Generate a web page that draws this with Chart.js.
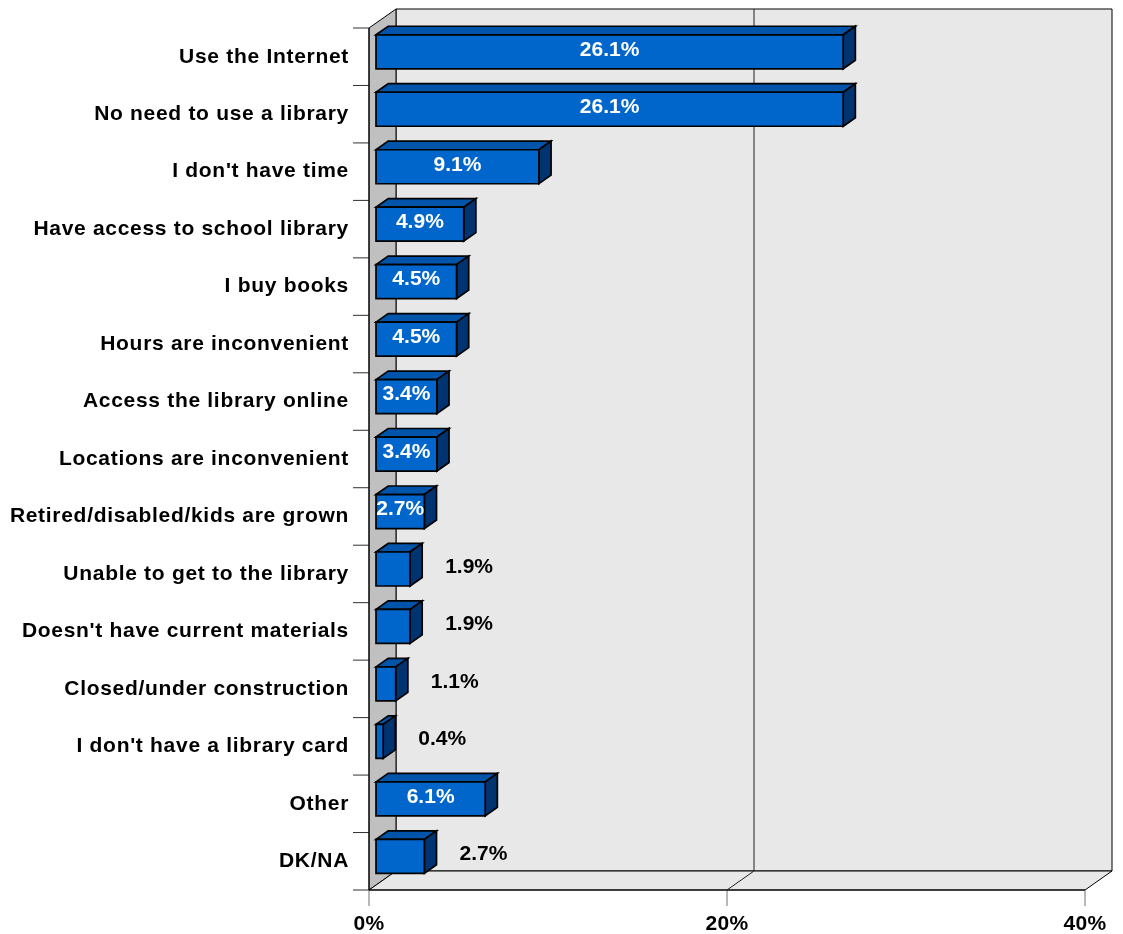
<!DOCTYPE html>
<html>
<head>
<meta charset="utf-8">
<title>Reasons for not using the library</title>
<script src="https://cdn.jsdelivr.net/npm/chart.js@4.4.1/dist/chart.umd.min.js"></script>
<style>
  html, body { margin: 0; padding: 0; background: #ffffff; }
  #wrap { width: 1123px; height: 934px; }
</style>
</head>
<body>
<div id="wrap"><canvas id="chart" width="1123" height="934"></canvas></div>
<script>
// ---- data ----
const categories = [
  'Use the Internet',
  'No need to use a library',
  "I don't have time",
  'Have access to school library',
  'I buy books',
  'Hours are inconvenient',
  'Access the library online',
  'Locations are inconvenient',
  'Retired/disabled/kids are grown',
  'Unable to get to the library',
  "Doesn't have current materials",
  'Closed/under construction',
  "I don't have a library card",
  'Other',
  'DK/NA'
];
const values = [26.1, 26.1, 9.1, 4.9, 4.5, 4.5, 3.4, 3.4, 2.7, 1.9, 1.9, 1.1, 0.4, 6.1, 2.7];
const axisMin = 0;
const axisMax = 40;
const axisStep = 20;
const axisTickLabels = ['0%', '20%', '40%'];

// rows whose value label sits beside the bar rather than on it
const outsideLabelRows = [9, 10, 11, 12, 14];

// ---- 3D look ----
const DEPTH = { x: 27, y: -19 };       // full depth of the wall box
const BAR_FRONT = 0.26;                // bar front face, as a share of the depth
const BAR_DEPTH = 0.45;                // bar thickness in depth
const FONT = 'bold 21px "Liberation Sans", Arial, sans-serif';

function poly(ctx, pts, fill, stroke, lw) {
  ctx.beginPath();
  ctx.moveTo(pts[0][0], pts[0][1]);
  for (let i = 1; i < pts.length; i++) ctx.lineTo(pts[i][0], pts[i][1]);
  ctx.closePath();
  if (fill) { ctx.fillStyle = fill; ctx.fill(); }
  if (stroke) { ctx.strokeStyle = stroke; ctx.lineWidth = lw || 1; ctx.stroke(); }
}

function line(ctx, pts, color, lw) {
  ctx.beginPath();
  ctx.moveTo(pts[0][0], pts[0][1]);
  for (let i = 1; i < pts.length; i++) ctx.lineTo(pts[i][0], pts[i][1]);
  ctx.strokeStyle = color;
  ctx.lineWidth = lw || 1;
  ctx.stroke();
}

function text(ctx, str, x, y, align, color, spacing) {
  ctx.save();
  ctx.font = FONT;
  ctx.fillStyle = color;
  ctx.textAlign = align;
  ctx.textBaseline = 'middle';
  if ('letterSpacing' in ctx) ctx.letterSpacing = spacing + 'px';
  ctx.fillText(str, x, y);
  ctx.restore();
}

const box3d = {
  id: 'box3d',
  beforeDatasetsDraw(chart) {
    const ctx = chart.ctx;
    const { left, right, top, bottom } = chart.chartArea;
    const xs = chart.scales.x, ys = chart.scales.y;
    const dx = DEPTH.x, dy = DEPTH.y;
    ctx.save();
    ctx.lineJoin = 'miter';

    // back wall, side wall and floor
    poly(ctx, [[left + dx, top + dy], [right + dx, top + dy], [right + dx, bottom + dy], [left + dx, bottom + dy]], '#e8e8e8', '#000', 1);
    poly(ctx, [[left, top], [left + dx, top + dy], [left + dx, bottom + dy], [left, bottom]], '#c0c0c0', '#000', 1);
    poly(ctx, [[left, bottom], [right, bottom], [right + dx, bottom + dy], [left + dx, bottom + dy]], '#e8e8e8', '#000', 1);

    // value gridlines across floor and back wall, ticks and tick labels
    let k = 0;
    for (let v = axisMin; v <= axisMax; v += axisStep, k++) {
      const px = xs.getPixelForValue(v);
      if (v > axisMin && v < axisMax) {
        line(ctx, [[px, bottom], [px + dx, bottom + dy], [px + dx, top + dy]], '#202020', 1);
      }
      line(ctx, [[px, bottom], [px, bottom + 16]], '#707070', 1);
      text(ctx, axisTickLabels[k], px, bottom + 34, 'center', '#000', 0.3);
    }
    // floor front edge drawn last so it stays crisp
    line(ctx, [[left, bottom], [right, bottom]], '#000', 1);

    // category ticks and labels
    const step = ys.getPixelForValue(1) - ys.getPixelForValue(0);
    const first = ys.getPixelForValue(0) - step / 2;
    for (let i = 0; i <= categories.length; i++) {
      const py = first + i * step;
      line(ctx, [[left - 16, py], [left, py]], '#303030', 1);
    }
    categories.forEach((c, i) => {
      text(ctx, c, left - 20, ys.getPixelForValue(i), 'right', '#000', 0.7);
    });
    line(ctx, [[left, top], [left, bottom]], '#000', 1);
    ctx.restore();
  },
  afterDatasetsDraw(chart) {
    const ctx = chart.ctx;
    const meta = chart.getDatasetMeta(0);
    const fx = DEPTH.x * BAR_FRONT, fy = DEPTH.y * BAR_FRONT;
    const bx = DEPTH.x * BAR_DEPTH, by = DEPTH.y * BAR_DEPTH;
    ctx.save();
    ctx.lineJoin = 'miter';
    meta.data.forEach((el, i) => {
      const p = el.getProps(['x', 'y', 'base', 'height'], true);
      const L = p.base + fx, R = p.x + fx;
      const T = p.y + fy - p.height / 2, B = p.y + fy + p.height / 2;
      // top face
      poly(ctx, [[L, T], [L + bx, T + by], [R + bx, T + by], [R, T]], '#0055aa', '#000', 1.7);
      // side face
      poly(ctx, [[R, T], [R + bx, T + by], [R + bx, B + by], [R, B]], '#003470', '#000', 1.7);
      // front face
      poly(ctx, [[L, T], [R, T], [R, B], [L, B]], '#0066cc', '#000', 1.7);

      const label = values[i].toFixed(1) + '%';
      const cy = p.y + fy - 2;
      if (outsideLabelRows.includes(i)) {
        text(ctx, label, R + bx + 23, cy, 'left', '#000', 0);
      } else {
        text(ctx, label, (L + R) / 2, cy, 'center', '#ffffff', 0);
      }
    });
    ctx.restore();
  }
};

new Chart(document.getElementById('chart'), {
  type: 'bar',
  data: {
    labels: categories,
    datasets: [{
      data: values,
      backgroundColor: 'rgba(0,0,0,0)',
      borderWidth: 0,
      barThickness: 34
    }]
  },
  options: {
    indexAxis: 'y',
    responsive: false,
    animation: false,
    events: [],
    layout: { padding: { left: 369, right: 38, top: 28, bottom: 44 } },
    plugins: { legend: { display: false }, tooltip: { enabled: false } },
    scales: {
      x: { type: 'linear', min: axisMin, max: axisMax, ticks: { stepSize: axisStep }, display: false },
      y: { type: 'category', offset: true, display: false }
    }
  },
  plugins: [box3d]
});
</script>
</body>
</html>
